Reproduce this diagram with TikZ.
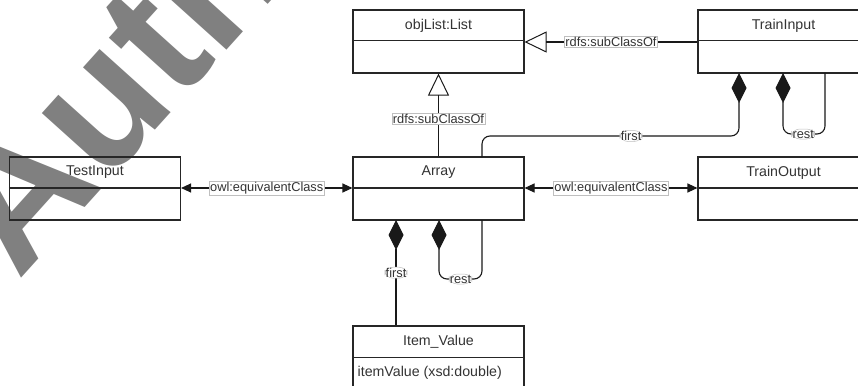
\documentclass[tikz,border=0pt]{standalone}
\usepackage{fontspec}
\setmainfont{Liberation Sans}
\usetikzlibrary{arrows.meta,calc}
\begin{document}
\begin{tikzpicture}[x=1pt,y=-1pt,
  cls/.style={draw=black!85, line width=1.1pt, minimum width=171pt, minimum height=63pt, inner sep=0pt},
  ttl/.style={font=\fontsize{14.2}{16}\selectfont, text=black!80, inner sep=0pt},
  attr/.style={font=\fontsize{14.2}{16}\selectfont, text=black!80, inner sep=0pt, anchor=west},
  lbl/.style={font=\fontsize{12.8}{14}\selectfont, text=black!80, fill=white, draw=black!25, line width=0.5pt, inner sep=0.8pt},
  conn/.style={line width=1.1pt, draw=black!90},
  gen/.style={conn, -{Triangle[open, length=22pt, width=21pt, line width=1pt]}},
  eqv/.style={conn, {Triangle[length=10pt, width=9pt]}-{Triangle[length=10pt, width=9pt]}},
  comp/.style={conn, rounded corners=8pt, {Diamond[length=30pt, width=15pt]}-},
  wmark/.style={font=\bfseries\fontsize{180}{180}\selectfont, text=black!50, inner sep=0pt, anchor=base west, rotate=48}
]
\useasboundingbox (0,0) rectangle (858,385);
\clip (0,0) rectangle (858,385);
% watermark
\node[wmark] (wm) at (18,282) {Author};
% classes
\node[cls] (list) at (438.5,41.5) {};
\node[cls] (ti) at (783.5,41.5) {};
\node[cls] (tst) at (95,188.5) {};
\node[cls] (arr) at (438.5,188.5) {};
\node[cls] (to) at (783.5,188.5) {};
\node[cls, minimum height=70pt] (item) at (438.5,361) {};
% dividers
\foreach \n in {list,ti,tst,arr,to}{
  \draw[line width=1.1pt, draw=black!85] ($(\n.north west)+(0,31.5)$) -- ($(\n.north east)+(0,31.5)$);
}
\draw[line width=1.1pt, draw=black!85] ($(item.north west)+(0,32)$) -- ($(item.north east)+(0,32)$);
\node[ttl] (list-title) at ($(list.north)+(0,16.5)$) {objList:List};
\node[ttl] (ti-title) at ($(ti.north)+(0,16.5)$) {TrainInput};
\node[ttl] (tst-title) at ($(tst.north)+(0,16)$) {TestInput};
\node[ttl] (arr-title) at ($(arr.north)+(0,16)$) {Array};
\node[ttl] (to-title) at ($(to.north)+(0,16)$) {TrainOutput};
\node[ttl] (item-title) at ($(item.north)+(0,16.5)$) {Item\_Value};
\node[attr] (item-attr) at ($(item.north west)+(5,47)$) {itemValue (xsd:double)};
% generalisations
\draw[gen] (ti.west |- 0,42) -- node[lbl, pos=0.5] (l1) {rdfs:subClassOf} (list.east |- 0,42);
\draw[gen] (arr.north) -- node[lbl, pos=0.45] (l2) {rdfs:subClassOf} (list.south);
% equivalences
\draw[eqv] (tst.east |- 0,188) -- node[lbl] (l3) {owl:equivalentClass} (arr.west |- 0,188);
\draw[eqv] (arr.east |- 0,188) -- node[lbl] (l4) {owl:equivalentClass} (to.west |- 0,188);
% compositions from TrainInput
\coordinate (tiA) at (739,73);
\coordinate (tiB) at (783,73);
\coordinate (tiC) at (825,73);
\coordinate (arrA) at (482,157);
\draw[comp] (tiA) -- (739,136) -- node[lbl, pos=0.42] (l5) {first} (482,136) -- (arrA);
\draw[comp] (tiB) -- (783,134) -- node[lbl, pos=0.48] (l6) {rest} (825,134) -- (tiC);
% compositions from Array
\coordinate (arrB) at (396,220);
\coordinate (arrC) at (439,220);
\coordinate (arrD) at (482,220);
\draw[comp] (arrB) -- node[lbl, pos=0.5] (l7) {first} (item.north -| arrB);
\draw[comp] (arrC) -- (439,279) -- node[lbl, pos=0.5] (l8) {rest} (482,279) -- (arrD);
\end{tikzpicture}
\end{document}
